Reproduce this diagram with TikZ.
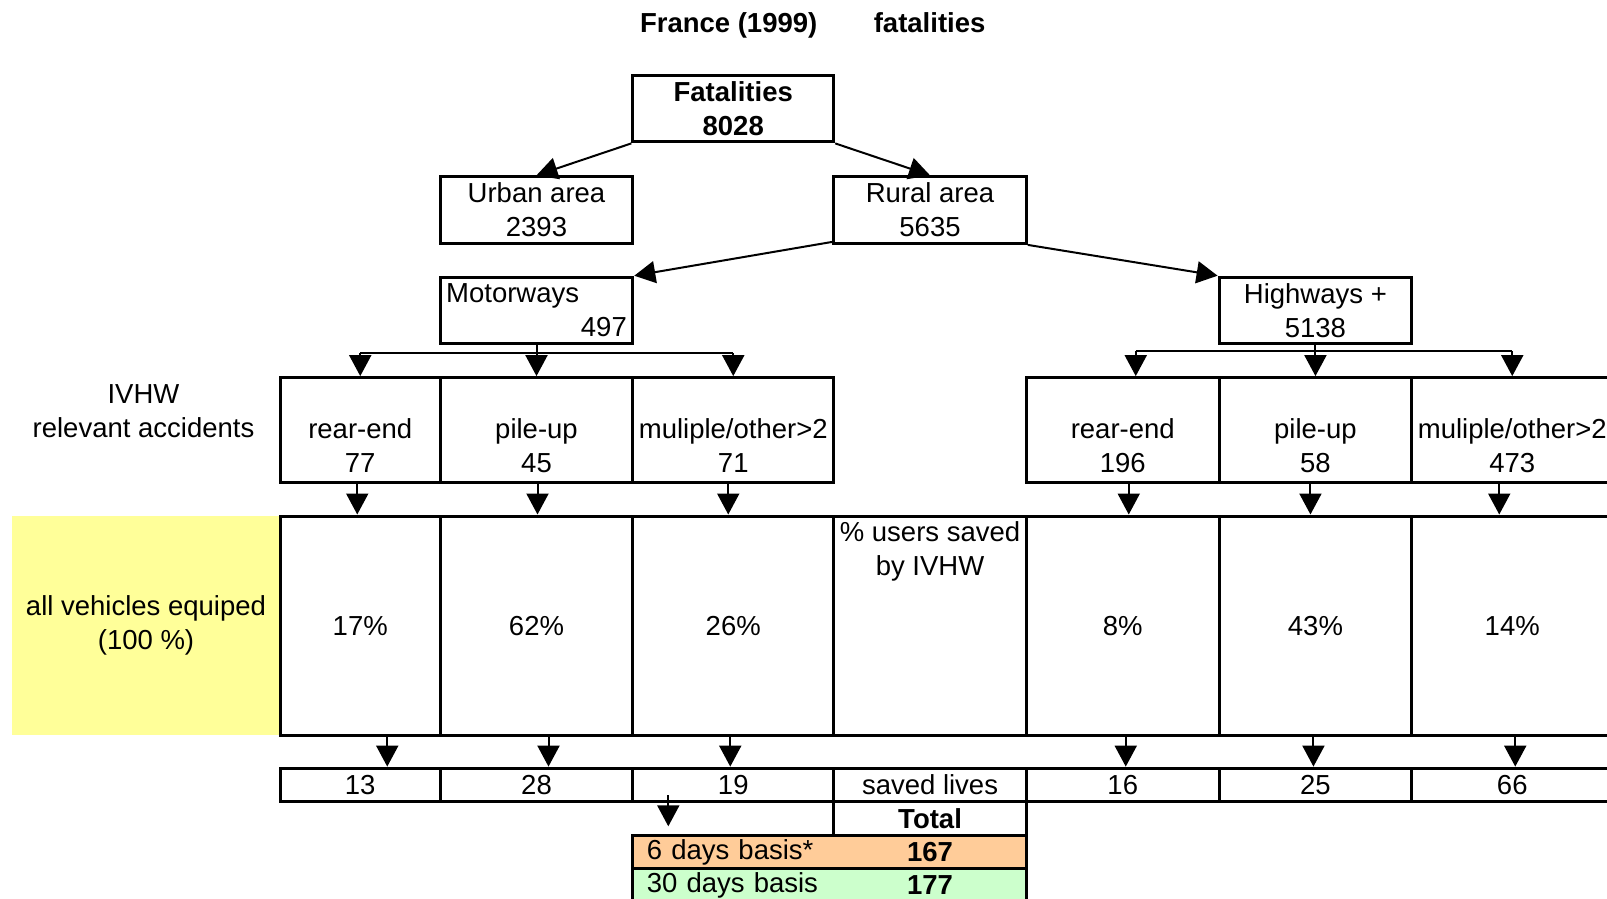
\documentclass[tikz,border=0pt]{standalone}
\usepackage{fontspec}
\setmainfont{Liberation Sans}
\usetikzlibrary{arrows.meta,calc}

\definecolor{paleyellow}{HTML}{FFFF99}
\definecolor{paleorange}{HTML}{FFCC99}
\definecolor{palegreen}{HTML}{CCFFCC}

\begin{document}
\begin{tikzpicture}[x=1pt,y=-1pt,
  every node/.style={font=\fontsize{27.5}{34}\selectfont},
  strong/.style={font=\fontsize{27.5}{34}\selectfont\bfseries},
  box/.style={draw,line width=3pt,inner sep=0pt,align=center,anchor=north west,minimum width=192.6pt,minimum height=66.6pt},
  cell/.style={draw,line width=3pt,inner sep=0pt,align=center,anchor=north west},
  arr/.style={line width=2pt,-{Triangle[width=22pt,length=21pt]}},
  fork/.style={line width=2pt}]
\useasboundingbox (0,0) rectangle (1607,898);
\clip (0,0) rectangle (1607,898);

\node[strong,anchor=base] (country) at (728.7,32.5) {France (1999)};
\node[strong,anchor=base] (kind) at (929.6,32.5) {fatalities};

\node[box,strong,minimum width=200.9pt] (fat) at (631.3,73.8) {Fatalities\\8028};
\node[box] (urban) at (438.7,175.3) {Urban area\\2393};
\node[box] (rural) at (832.2,175.3) {Rural area\\5635};
\node[box,align=left,text width=180.6pt] (mw) at (438.7,275.7) {Motorways\\\mbox{}\hspace{0pt plus 1filll}497};
\node[box] (hw) at (1217.6,275.7) {Highways +\\5138};

\draw[arr] (fat.south west) -- (urban.north);
\draw[arr] (fat.south east) -- (rural.north);
\draw[arr] ([yshift=3pt]rural.south west) -- (mw.north east);
\draw[arr] (rural.south east) -- (hw.north west);

\node[align=center] (ivhw) at (143.5,411) {IVHW\\relevant accidents};
\node[cell,minimum width=159.9pt,minimum height=104.6pt] (c1) at (278.8,376.1) {\rule{0pt}{18pt}\\rear-end\\77};
\node[cell,minimum width=192.6pt,minimum height=104.6pt] (c2) at (438.7,376.1) {\rule{0pt}{18pt}\\pile-up\\45};
\node[cell,minimum width=200.9pt,minimum height=104.6pt] (c3) at (631.3,376.1) {\rule{0pt}{18pt}\\muliple/other>2\\71};
\node[cell,minimum width=192.7pt,minimum height=104.6pt] (c5) at (1024.9,376.1) {\rule{0pt}{18pt}\\rear-end\\196};
\node[cell,minimum width=192.7pt,minimum height=104.6pt] (c6) at (1217.6,376.1) {\rule{0pt}{18pt}\\pile-up\\58};
\node[cell,minimum width=200.9pt,minimum height=104.6pt] (c7) at (1410.3,376.1) {\rule{0pt}{18pt}\\muliple/other>2\\473};

\draw[fork] (mw.south) -- ++(0,8) coordinate (mwfork);
\draw[fork] (c1.north |- mwfork) -- (c3.north |- mwfork);
\draw[arr] (c1.north |- mwfork) -- (c1.north);
\draw[arr] (c2.north |- mwfork) -- (c2.north);
\draw[arr] (c3.north |- mwfork) -- (c3.north);
\draw[fork] (hw.south) -- ++(0,6) coordinate (hwfork);
\draw[fork] ($(c5.north |- hwfork)+(13,0)$) -- (c7.north |- hwfork);
\draw[arr] ($(c5.north |- hwfork)+(13,0)$) -- ([xshift=13pt]c5.north);
\draw[arr] (c6.north |- hwfork) -- (c6.north);
\draw[arr] (c7.north |- hwfork) -- (c7.north);

\node[cell,draw=none,fill=paleyellow,minimum width=268.6pt,minimum height=219.3pt] (fleet) at (10.2,514.5) {all vehicles equiped\\(100 \%)};
\node[cell,minimum width=159.9pt,minimum height=219.3pt] (p1) at (278.8,514.5) {17\%};
\node[cell,minimum width=192.6pt,minimum height=219.3pt] (p2) at (438.7,514.5) {62\%};
\node[cell,minimum width=200.9pt,minimum height=219.3pt] (p3) at (631.3,514.5) {26\%};
\node[cell,minimum width=192.7pt,minimum height=219.3pt] (p4) at (832.2,514.5) {};
\node[anchor=north,align=center,inner sep=0pt] (savedby) at ([yshift=-7pt]p4.north) {\% users saved\\by IVHW};
\node[cell,minimum width=192.7pt,minimum height=219.3pt] (p5) at (1024.9,514.5) {8\%};
\node[cell,minimum width=192.7pt,minimum height=219.3pt] (p6) at (1217.6,514.5) {43\%};
\node[cell,minimum width=200.9pt,minimum height=219.3pt] (p7) at (1410.3,514.5) {14\%};

\draw[arr] ([xshift=-3pt]c1.south) -- ([xshift=-3pt]p1.north);
\draw[arr] ([xshift=1pt]c2.south) -- ([xshift=1pt]p2.north);
\draw[arr] ([xshift=-5pt]c3.south) -- ([xshift=-5pt]p3.north);
\draw[arr] ([xshift=6pt]c5.south) -- ([xshift=6pt]p5.north);
\draw[arr] ([xshift=-5pt]c6.south) -- ([xshift=-5pt]p6.north);
\draw[arr] ([xshift=-13pt]c7.south) -- ([xshift=-13pt]p7.north);

\node[cell,minimum width=159.9pt,minimum height=33.8pt] (s1) at (278.8,766.6) {13};
\node[cell,minimum width=192.6pt,minimum height=33.8pt] (s2) at (438.7,766.6) {28};
\node[cell,minimum width=200.9pt,minimum height=33.8pt] (s3) at (631.3,766.6) {19};
\node[cell,minimum width=192.7pt,minimum height=33.8pt] (s4) at (832.2,766.6) {saved lives};
\node[cell,minimum width=192.7pt,minimum height=33.8pt] (s5) at (1024.9,766.6) {16};
\node[cell,minimum width=192.7pt,minimum height=33.8pt] (s6) at (1217.6,766.6) {25};
\node[cell,minimum width=200.9pt,minimum height=33.8pt] (s7) at (1410.3,766.6) {66};

\draw[arr] ([xshift=27pt]p1.south) -- ([xshift=27pt]s1.north);
\draw[arr] ([xshift=12pt]p2.south) -- ([xshift=12pt]s2.north);
\draw[arr] ([xshift=-3pt]p3.south) -- ([xshift=-3pt]s3.north);
\draw[arr] ([xshift=3pt]p5.south) -- ([xshift=3pt]s5.north);
\draw[arr] ([xshift=-2pt]p6.south) -- ([xshift=-2pt]s6.north);
\draw[arr] ([xshift=3pt]p7.south) -- ([xshift=3pt]s7.north);

\node[cell,strong,minimum width=192.7pt,minimum height=33.9pt] (total) at (832.2,800.4) {Total};
\node[cell,fill=paleorange,align=left,text width=365.6pt,minimum width=393.6pt,minimum height=32.8pt] (six) at (631.3,834.3) {6 days basis*};
\node[cell,fill=palegreen,align=left,text width=365.6pt,minimum width=393.6pt,minimum height=32.8pt] (thirty) at (631.3,867.1) {30 days basis};
\node[strong] (sixval) at (total.center |- six.center) {167};
\node[strong] (thirtyval) at (total.center |- thirty.center) {177};

\draw[arr] ([xshift=37pt,yshift=8pt]s3.south west) -- ([xshift=37pt,yshift=8pt]six.north west);
\end{tikzpicture}
\end{document}
